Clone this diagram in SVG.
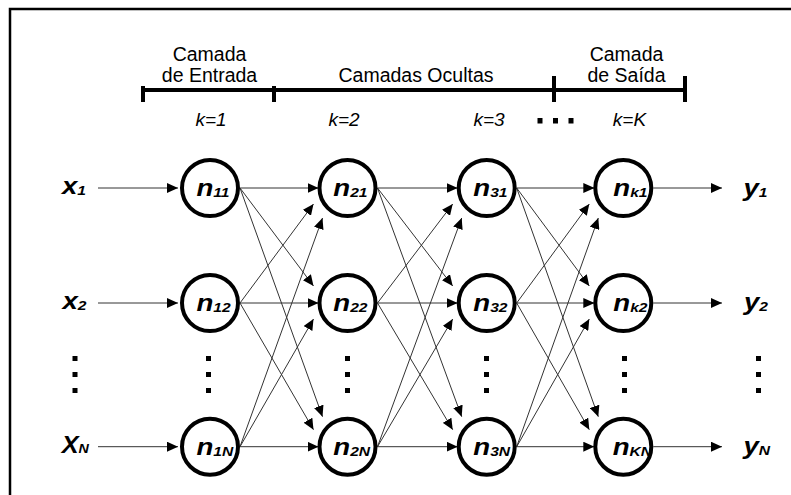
<svg xmlns="http://www.w3.org/2000/svg" width="791" height="495" viewBox="0 0 791 495">
<style>
.node{fill:#fff;stroke:#000;stroke-width:4}
.c{stroke:#333;stroke-width:1;fill:none;marker-end:url(#ah)}
.nl{font-family:"Liberation Sans",Arial,sans-serif;font-weight:bold;font-style:italic;font-size:23px;fill:#000}
.sub{font-size:13px}
.hd{font-family:"Liberation Sans",Arial,sans-serif;font-size:19.5px;fill:#000;text-anchor:middle}
.k{font-family:"Liberation Sans",Arial,sans-serif;font-style:italic;font-size:19px;fill:#000;text-anchor:middle}
.br{stroke:#000;stroke-width:4;fill:none}
</style>
<defs>
<marker id="ah" markerUnits="userSpaceOnUse" markerWidth="11" markerHeight="10" refX="11" refY="5" orient="auto"><path d="M0,0 L11,5 L0,10 z" fill="#000"/></marker>
</defs>
<rect width="791" height="495" fill="#fff"/>
<g id="frame"><path d="M10,495 V9 H791" stroke="#000" stroke-width="2.5" fill="none"/></g>
<g id="header">
<path class="br" d="M143,90 H685"/>
<path class="br" d="M143,86 V102 M274,86 V102 M554,76 V102 M685,76 V102"/>
<text class="hd" x="209.5" y="61">Camada</text>
<text class="hd" x="209.5" y="82">de Entrada</text>
<text class="hd" x="416" y="82">Camadas Ocultas</text>
<text class="hd" x="626.5" y="61">Camada</text>
<text class="hd" x="626.5" y="82">de Saída</text>
<text class="k" x="211" y="126">k=1</text>
<text class="k" x="344" y="126">k=2</text>
<text class="k" x="489" y="126">k=3</text>
<text class="k" x="629.5" y="126">k=K</text>
<rect x="537.5" y="118" width="5" height="5.5"/><rect x="553" y="118" width="5" height="5.5"/><rect x="568.5" y="118" width="5" height="5.5"/>
</g>
<g id="vdots">
<rect x="72.5" y="356" width="5" height="5"/><rect x="72.5" y="372" width="5" height="5"/><rect x="72.5" y="388" width="5" height="5"/>
<rect x="206" y="356" width="5" height="5"/><rect x="206" y="372" width="5" height="5"/><rect x="206" y="388" width="5" height="5"/>
<rect x="345" y="356" width="5" height="5"/><rect x="345" y="372" width="5" height="5"/><rect x="345" y="388" width="5" height="5"/>
<rect x="484" y="356" width="5" height="5"/><rect x="484" y="372" width="5" height="5"/><rect x="484" y="388" width="5" height="5"/>
<rect x="622" y="356" width="5" height="5"/><rect x="622" y="372" width="5" height="5"/><rect x="622" y="388" width="5" height="5"/>
<rect x="756" y="356" width="5" height="5"/><rect x="756" y="372" width="5" height="5"/><rect x="756" y="388" width="5" height="5"/>
</g>
<g id="connectors">
<path class="c" d="M98,188 H178"/><path class="c" d="M98,303 H178"/><path class="c" d="M98,446.7 H178"/>
<path class="c" d="M240,188 H318.5"/><path class="c" d="M240,303 H318.5"/><path class="c" d="M240,446.7 H318.5"/>
<path class="c" d="M240,188 L313.5,286"/><path class="c" d="M240,188 L322.5,416.7"/>
<path class="c" d="M240,303 L313.5,204"/><path class="c" d="M240,303 L313.5,429.7"/>
<path class="c" d="M240,446.7 L322.5,218"/><path class="c" d="M240,446.7 L313.5,319"/>
<path class="c" d="M377.5,188 H457.7"/><path class="c" d="M377.5,303 H457.7"/><path class="c" d="M377.5,446.7 H457.7"/>
<path class="c" d="M377.5,188 L452.7,286"/><path class="c" d="M377.5,188 L461.7,416.7"/>
<path class="c" d="M377.5,303 L452.7,204"/><path class="c" d="M377.5,303 L452.7,429.7"/>
<path class="c" d="M377.5,446.7 L461.7,218"/><path class="c" d="M377.5,446.7 L452.7,319"/>
<path class="c" d="M516.7,188 H594.3"/><path class="c" d="M516.7,303 H594.3"/><path class="c" d="M516.7,446.7 H594.3"/>
<path class="c" d="M516.7,188 L589.3,286"/><path class="c" d="M516.7,188 L598.3,416.7"/>
<path class="c" d="M516.7,303 L589.3,204"/><path class="c" d="M516.7,303 L589.3,429.7"/>
<path class="c" d="M516.7,446.7 L598.3,218"/><path class="c" d="M516.7,446.7 L589.3,319"/>
<path class="c" d="M653.3,188 H722"/><path class="c" d="M653.3,303 H722"/><path class="c" d="M653.3,446.7 H722"/>
</g>
<g id="inputs">
<text class="nl" transform="translate(62,193.5) scale(1.2,1)">x<tspan class="sub" dy="1.5">1</tspan></text>
<text class="nl" transform="translate(62.5,308.5) scale(1.2,1)">x<tspan class="sub" dy="1.5">2</tspan></text>
<text class="nl" transform="translate(61.7,453) scale(1.1,1)">X<tspan class="sub" dy="0">N</tspan></text>
</g>
<g id="n11"><circle class="node" cx="210" cy="188" r="28"/><text class="nl" transform="translate(196.5,196) scale(1.2,1)">n<tspan class="sub" dy="1">11</tspan></text></g>
<g id="n12"><circle class="node" cx="210" cy="303" r="28"/><text class="nl" transform="translate(196.5,311) scale(1.2,1)">n<tspan class="sub" dy="1">12</tspan></text></g>
<g id="n1N"><circle class="node" cx="210" cy="446.7" r="28"/><text class="nl" transform="translate(196.5,454.7) scale(1.2,1)">n<tspan class="sub" dy="1">1N</tspan></text></g>
<g id="n21"><circle class="node" cx="347.5" cy="188" r="28"/><text class="nl" transform="translate(333.3,196) scale(1.2,1)">n<tspan class="sub" dy="1">21</tspan></text></g>
<g id="n22"><circle class="node" cx="347.5" cy="303" r="28"/><text class="nl" transform="translate(333.3,311) scale(1.2,1)">n<tspan class="sub" dy="1">22</tspan></text></g>
<g id="n2N"><circle class="node" cx="347.5" cy="446.7" r="28"/><text class="nl" transform="translate(333.3,454.7) scale(1.2,1)">n<tspan class="sub" dy="1">2N</tspan></text></g>
<g id="n31"><circle class="node" cx="486.7" cy="188" r="28"/><text class="nl" transform="translate(473.3,196) scale(1.2,1)">n<tspan class="sub" dy="1">31</tspan></text></g>
<g id="n32"><circle class="node" cx="486.7" cy="303" r="28"/><text class="nl" transform="translate(473.3,311) scale(1.2,1)">n<tspan class="sub" dy="1">32</tspan></text></g>
<g id="n3N"><circle class="node" cx="486.7" cy="446.7" r="28"/><text class="nl" transform="translate(473.3,454.7) scale(1.2,1)">n<tspan class="sub" dy="1">3N</tspan></text></g>
<g id="nk1"><circle class="node" cx="623.3" cy="188" r="28"/><text class="nl" transform="translate(613.3,196) scale(1.2,1)">n<tspan class="sub" dy="1">k1</tspan></text></g>
<g id="nk2"><circle class="node" cx="623.3" cy="303" r="28"/><text class="nl" transform="translate(613.3,311) scale(1.2,1)">n<tspan class="sub" dy="1">k2</tspan></text></g>
<g id="nKN"><circle class="node" cx="623.3" cy="446.7" r="28"/><text class="nl" transform="translate(612.7,454.7) scale(1.2,1)">n<tspan class="sub" dy="1">KN</tspan></text></g>
<g id="outputs">
<text class="nl" transform="translate(743.5,195.5) scale(1.2,1)">y<tspan class="sub" dy="1">1</tspan></text>
<text class="nl" transform="translate(744,310) scale(1.2,1)">y<tspan class="sub" dy="1">2</tspan></text>
<text class="nl" transform="translate(743.5,453.5) scale(1.2,1)">y<tspan class="sub" dy="1">N</tspan></text>
</g>
</svg>
